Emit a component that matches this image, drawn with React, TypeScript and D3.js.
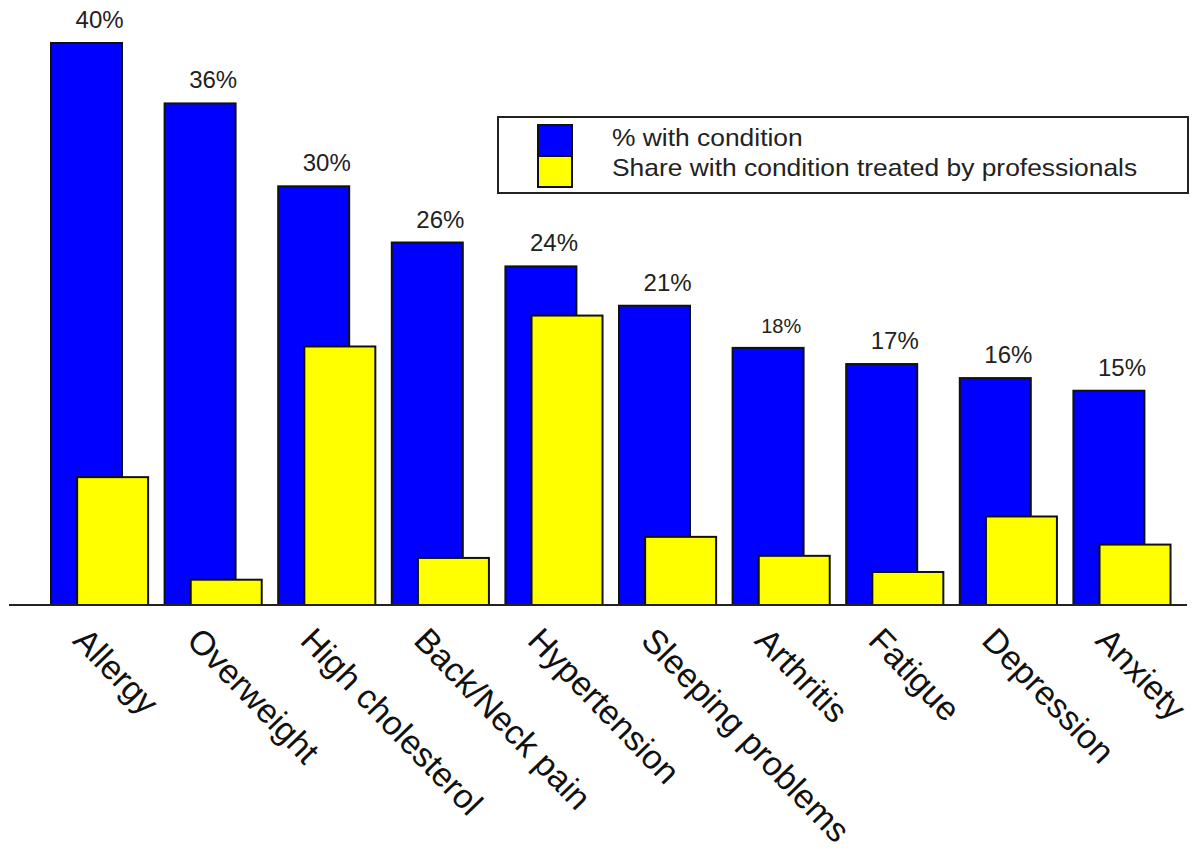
import * as d3 from 'd3';

// condition categories, left to right
const conditions = [
  'Allergy',
  'Overweight',
  'High cholesterol',
  'Back/Neck pain',
  'Hypertension',
  'Sleeping problems',
  'Arthritis',
  'Fatigue',
  'Depression',
  'Anxiety',
];

// % with condition (blue)
const withCondition = [40, 35.7, 29.8, 25.8, 24.1, 21.3, 18.3, 17.15, 16.15, 15.25];

// share treated by professionals (yellow)
const treated = [9.1, 1.8, 18.4, 3.35, 20.6, 4.85, 3.5, 2.35, 6.3, 4.3];

const valueLabels = ['40%', '36%', '30%', '26%', '24%', '21%', '18%', '17%', '16%', '15%'];

const legendItems = [
  { key: '% with condition', color: '#0000FF' },
  { key: 'Share with condition treated by professionals', color: '#FFFF00' },
];

const W = 1193;
const H = 856;
const FONT = '"Liberation Sans", Arial, sans-serif';

const App = () => {
  const x = d3.scaleBand<string>().domain(conditions).range([51, 1187]).paddingInner(0).paddingOuter(0);
  const y = d3.scaleLinear().domain([0, 40]).range([605, 43]);

  const bw = x.bandwidth();
  const barW = bw * 0.625;
  const shift = bw * 0.23;

  return (
    <svg width={W} height={H} style={{ position: 'absolute', left: 0, top: 0, background: '#fff' }}>
      {/* blue bars */}
      {conditions.map((c, i) => (
        <rect
          key={'b' + c}
          x={x(c)!}
          y={y(withCondition[i])}
          width={barW}
          height={y(0) - y(withCondition[i])}
          fill="#0000FF"
          stroke="#111"
          strokeWidth={2}
        />
      ))}
      {/* yellow bars sit in front, shifted right */}
      {conditions.map((c, i) => (
        <rect
          key={'y' + c}
          x={x(c)! + shift}
          y={y(treated[i])}
          width={barW}
          height={y(0) - y(treated[i])}
          fill="#FFFF00"
          stroke="#111"
          strokeWidth={2}
        />
      ))}

      {/* baseline */}
      <line x1={9} x2={1187} y1={y(0)} y2={y(0)} stroke="#222" strokeWidth={2} />

      {/* value labels */}
      {conditions.map((c, i) => (
        <text
          key={'v' + c}
          x={x(c)! + (barW + shift) / 2}
          y={y(withCondition[i]) - 15}
          textAnchor="middle"
          fontFamily={FONT}
          fontSize={i === 6 ? 20 : 24}
          fill="#222"
        >
          {valueLabels[i]}
        </text>
      ))}

      {/* category labels */}
      {conditions.map((c) => {
        const ax = x(c)! + (barW + shift) / 2 - 28;
        const ay = y(0) + 37;
        return (
          <text
            key={'c' + c}
            transform={`translate(${ax},${ay}) rotate(46)`}
            fontFamily={FONT}
            fontSize={34}
            fill="#111"
          >
            {c}
          </text>
        );
      })}

      {/* legend */}
      <g>
        <rect x={498} y={117} width={690} height={76} fill="#fff" stroke="#222" strokeWidth={2} />
        {legendItems.map((d, i) => (
          <g key={d.key}>
            <rect x={538} y={125 + i * 31} width={34} height={31} fill={d.color} stroke="#111" strokeWidth={2} />
            <text
              transform={`translate(612,${146 + i * 30}) scale(1.1,1)`}
              fontFamily={FONT}
              fontSize={24}
              fill="#222"
            >
              {d.key}
            </text>
          </g>
        ))}
      </g>
    </svg>
  );
};

export default App;
